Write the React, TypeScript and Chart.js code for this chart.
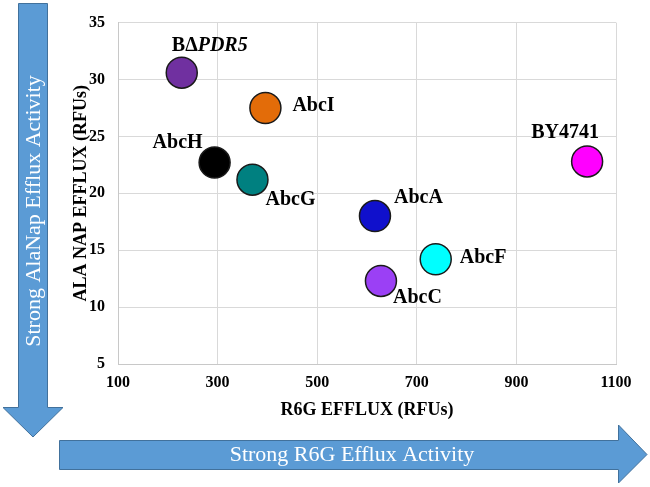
import React, { useEffect, useRef } from "react";
import { Chart, registerables } from "chart.js";

Chart.register(...registerables);

// ---- data ----
const strains = ["BΔPDR5", "AbcI", "AbcH", "AbcG", "AbcA", "AbcF", "AbcC", "BY4741"];
const r6gEfflux = [228, 396, 294, 370, 616, 738, 628, 1042];
const alaNapEfflux = [30.6, 27.5, 22.7, 21.2, 18.0, 14.2, 12.3, 22.8];
const pointColors = ["#7030A0", "#E36C09", "#000000", "#008080", "#1010CC", "#00FFFF", "#9B40F5", "#FF00FF"];
const xTickValues = [100, 300, 500, 700, 900, 1100];
const yTickValues = [5, 10, 15, 20, 25, 30, 35];

const xTitle = "R6G EFFLUX (RFUs)";
const yTitle = "ALA NAP EFFLUX (RFUs)";
const xArrowText = "Strong R6G Efflux Activity";
const yArrowText = "Strong AlaNap Efflux Activity";

// label placement relative to each point (style only)
const labelPlacement = [
  { dx: 28, dy: -27, align: "center" },
  { dx: 27, dy: -2, align: "left" },
  { dx: -37, dy: -20, align: "center" },
  { dx: 38, dy: 20, align: "center" },
  { dx: 19, dy: -18, align: "left" },
  { dx: 24, dy: -1, align: "left" },
  { dx: 12, dy: 17, align: "left" },
  { dx: -22, dy: -29, align: "center" },
];

const SERIF = '"Liberation Serif", "Times New Roman", serif';
const ARROW_FILL = "#5B9BD5";
const ARROW_STROKE = "#41719C";

const backgroundAndArrows = {
  id: "backgroundAndArrows",
  beforeDraw(chart: any) {
    const ctx = chart.ctx;
    ctx.save();
    ctx.fillStyle = "#ffffff";
    ctx.fillRect(0, 0, chart.width, chart.height);

    ctx.fillStyle = ARROW_FILL;
    ctx.strokeStyle = ARROW_STROKE;
    ctx.lineWidth = 1;

    // vertical arrow (down)
    ctx.beginPath();
    ctx.moveTo(18.5, 3.5);
    ctx.lineTo(47.5, 3.5);
    ctx.lineTo(47.5, 407.5);
    ctx.lineTo(63, 407.5);
    ctx.lineTo(33, 437);
    ctx.lineTo(3, 407.5);
    ctx.lineTo(18.5, 407.5);
    ctx.closePath();
    ctx.fill();
    ctx.stroke();

    // horizontal arrow (right)
    ctx.beginPath();
    ctx.moveTo(59.5, 440.5);
    ctx.lineTo(618.5, 440.5);
    ctx.lineTo(618.5, 425);
    ctx.lineTo(647, 454.5);
    ctx.lineTo(618.5, 483);
    ctx.lineTo(618.5, 469.5);
    ctx.lineTo(59.5, 469.5);
    ctx.closePath();
    ctx.fill();
    ctx.stroke();

    ctx.fillStyle = "#ffffff";
    ctx.font = `22px ${SERIF}`;
    ctx.textAlign = "center";
    ctx.textBaseline = "middle";
    ctx.fillText(xArrowText, 352, 455);

    ctx.translate(33, 211);
    ctx.rotate(-Math.PI / 2);
    ctx.fillText(yArrowText, 0, 1);
    ctx.restore();
  },
};

const pointLabels = {
  id: "pointLabels",
  afterDatasetsDraw(chart: any) {
    const ctx = chart.ctx;
    const meta = chart.getDatasetMeta(0);
    ctx.save();
    ctx.fillStyle = "#000000";
    ctx.textBaseline = "middle";
    meta.data.forEach((el: any, i: number) => {
      const p = labelPlacement[i];
      const name = strains[i];
      const x = el.x + p.dx;
      const y = el.y + p.dy;
      if (name.startsWith("BΔ")) {
        const a = "BΔ";
        const b = name.slice(2);
        ctx.font = `bold 20px ${SERIF}`;
        const wa = ctx.measureText(a).width;
        ctx.font = `italic bold 20px ${SERIF}`;
        const wb = ctx.measureText(b).width;
        let start = x;
        if (p.align === "center") start = x - (wa + wb) / 2;
        ctx.textAlign = "left";
        ctx.font = `bold 20px ${SERIF}`;
        ctx.fillText(a, start, y);
        ctx.font = `italic bold 20px ${SERIF}`;
        ctx.fillText(b, start + wa, y);
      } else {
        ctx.font = `bold 20px ${SERIF}`;
        ctx.textAlign = p.align;
        ctx.fillText(name, x, y);
      }
    });
    ctx.restore();
  },
};

export default function App() {
  const canvasRef = useRef<HTMLCanvasElement | null>(null);

  useEffect(() => {
    if (!canvasRef.current) return;
    const chart = new Chart(canvasRef.current, {
      type: "scatter",
      data: {
        datasets: [
          {
            label: "Strains",
            data: r6gEfflux.map((x, i) => ({ x, y: alaNapEfflux[i] })),
            backgroundColor: pointColors,
            borderColor: "#1a1a1a",
            borderWidth: 1.5,
            pointRadius: 15.5,
            pointHoverRadius: 15.5,
          },
        ],
      },
      options: {
        animation: false,
        responsive: false,
        devicePixelRatio: 1,
        events: [],
        layout: { padding: { left: 67, top: 10, right: 34, bottom: 62 } },
        plugins: {
          legend: { display: false },
          tooltip: { enabled: false },
        },
        scales: {
          x: {
            type: "linear",
            min: xTickValues[0],
            max: xTickValues[xTickValues.length - 1],
            afterBuildTicks: (scale: any) => {
              scale.ticks = xTickValues.map((v) => ({ value: v }));
            },
            afterFit: (scale: any) => {
              scale.height = 61;
            },
            ticks: {
              color: "#000",
              padding: 9,
              maxRotation: 0,
              callback: (v: any) => String(v),
              font: { family: SERIF, size: 16, weight: "bold" },
            },
            grid: { color: "#d9d9d9", lineWidth: 1, drawTicks: false },
            border: { color: "#c8c8c8", width: 1 },
            title: {
              display: true,
              text: xTitle,
              color: "#000",
              font: { family: SERIF, size: 18, weight: "bold" },
              padding: { top: 4, bottom: 4 },
            },
          },
          y: {
            type: "linear",
            min: yTickValues[0],
            max: yTickValues[yTickValues.length - 1],
            afterBuildTicks: (scale: any) => {
              scale.ticks = yTickValues.map((v) => ({ value: v }));
            },
            afterFit: (scale: any) => {
              scale.width = 51;
            },
            ticks: {
              color: "#000",
              padding: 13,
              callback: (v: any) => String(v),
              font: { family: SERIF, size: 16, weight: "bold" },
            },
            grid: { color: "#d9d9d9", lineWidth: 1, drawTicks: false },
            border: { color: "#c8c8c8", width: 1 },
            title: {
              display: true,
              text: yTitle,
              color: "#000",
              font: { family: SERIF, size: 18, weight: "bold" },
              padding: { top: 4, bottom: 4 },
            },
          },
        },
      },
      plugins: [backgroundAndArrows, pointLabels],
    });
    return () => chart.destroy();
  }, []);

  return (
    <div style={{ position: "absolute", left: 0, top: 0, width: 650, height: 487, background: "#fff" }}>
      <canvas ref={canvasRef} width={650} height={487} style={{ width: 650, height: 487, display: "block" }} />
    </div>
  );
}
